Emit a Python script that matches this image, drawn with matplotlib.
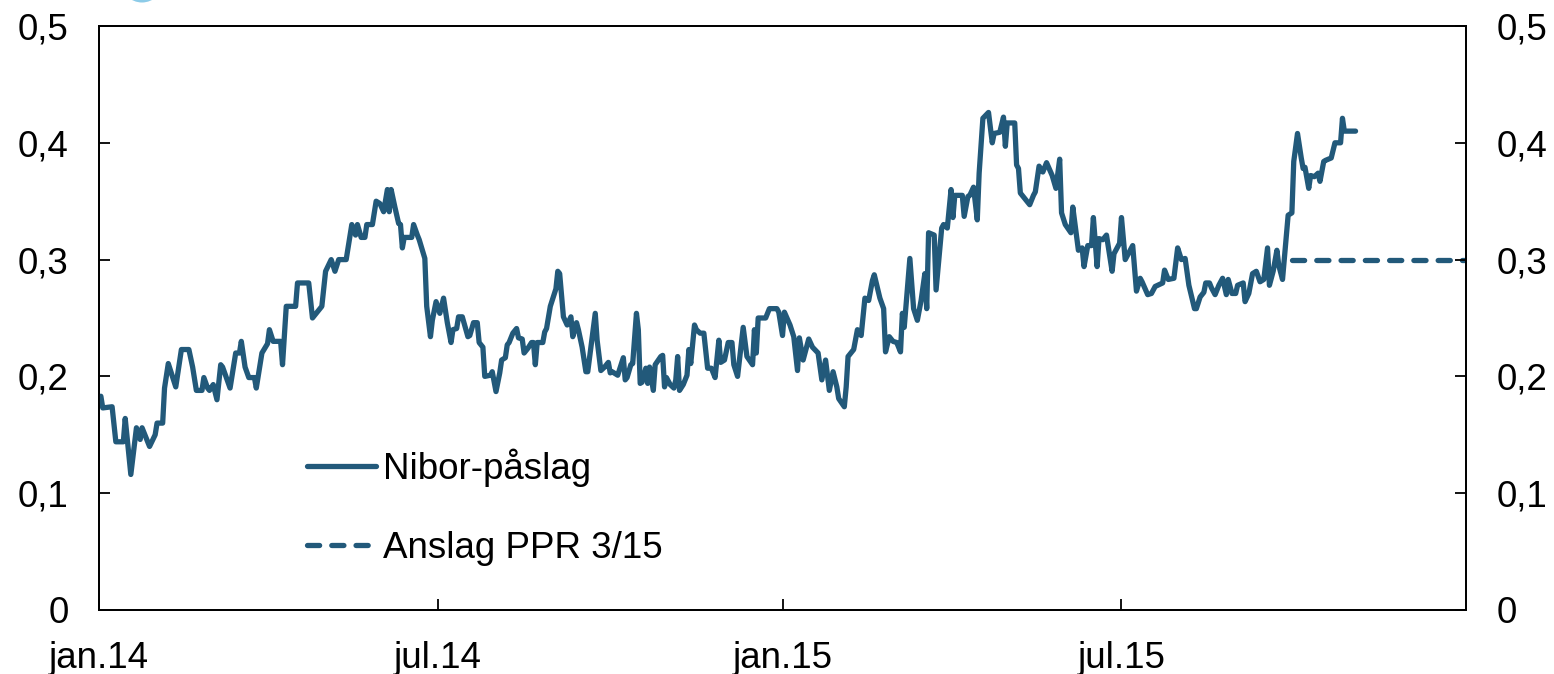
"""Nibor spread (Nibor-påslag) with the PPR 3/15 forecast, written to out.png."""

import matplotlib

matplotlib.use("Agg")
import matplotlib.pyplot as plt
import pandas as pd
from matplotlib.patches import Ellipse
from matplotlib.ticker import FuncFormatter, MultipleLocator

START = "2014-01-01"
X_END = "2016-01-01"

# days after START and the spread in percentage points
nibor_day = [
    1, 2, 7, 9, 13, 14, 17, 20, 22, 23,
    27, 30, 31, 34, 35, 37, 41, 44, 48, 50,
    52, 55, 56, 58, 59, 61, 63, 65, 66, 70,
    73, 75, 76, 78, 80, 83, 84, 87, 90, 91,
    93, 97, 98, 100, 105, 106, 112, 114, 119, 121,
    124, 126, 128, 132, 135, 137, 138, 140, 142, 143,
    146, 147, 148, 150, 152, 154, 155, 156, 158, 160,
    161, 162, 163, 167, 168, 170, 171, 174, 175, 177,
    178, 180, 182, 184, 186, 188, 189, 191, 192, 194,
    197, 198, 200, 202, 203, 205, 206, 209, 210, 212,
    214, 215, 217, 218, 219, 221, 223, 224, 226, 227,
    229, 231, 232, 233, 234, 237, 238, 239, 241, 244,
    245, 246, 248, 250, 252, 253, 255, 256, 258, 260,
    261, 263, 265, 266, 268, 270, 272, 273, 274, 277,
    280, 281, 282, 284, 285, 287, 288, 289, 290, 292,
    293, 294, 296, 297, 300, 301, 302, 303, 305, 307,
    308, 309, 310, 312, 314, 315, 316, 318, 319, 321,
    323, 325, 327, 329, 331, 332, 334, 336, 338, 339,
    341, 344, 346, 349, 350, 351, 352, 356, 358, 362,
    363, 365, 366, 369, 371, 373, 374, 376, 379, 381,
    384, 386, 388, 390, 392, 394, 395, 398, 399, 400,
    403, 405, 407, 409, 411, 413, 414, 417, 419, 420,
    422, 424, 426, 428, 429, 430, 433, 435, 437, 439,
    441, 442, 443, 446, 447, 450, 451, 453, 455, 456,
    457, 461, 462, 464, 465, 467, 469, 470, 472, 475,
    477, 478, 481, 483, 484, 485, 489, 490, 491, 492,
    494, 497, 499, 500, 502, 504, 506, 509, 511, 513,
    514, 516, 519, 520, 523, 525, 526, 528, 530, 531,
    533, 534, 536, 538, 541, 542, 545, 546, 548, 552,
    554, 556, 557, 560, 562, 564, 568, 569, 571, 574,
    576, 578, 580, 582, 585, 586, 588, 590, 591, 593,
    594, 596, 598, 600, 602, 603, 605, 607, 608, 611,
    612, 614, 616, 618, 620, 622, 624, 625, 627, 629,
    630, 632, 633, 635, 637, 638, 640, 642, 643, 644,
    646, 647, 649, 651, 652, 654, 655, 658, 660, 662,
    663, 664, 665, 671,
]
nibor_value = [
    0.183, 0.173, 0.174, 0.144, 0.144, 0.164, 0.116, 0.156, 0.146, 0.156,
    0.140, 0.150, 0.160, 0.160, 0.190, 0.211, 0.191, 0.223, 0.223, 0.208,
    0.188, 0.188, 0.199, 0.190, 0.188, 0.193, 0.180, 0.210, 0.208, 0.190,
    0.220, 0.220, 0.230, 0.208, 0.199, 0.199, 0.190, 0.220, 0.228, 0.240,
    0.230, 0.230, 0.210, 0.260, 0.260, 0.280, 0.280, 0.250, 0.260, 0.290,
    0.300, 0.290, 0.300, 0.300, 0.330, 0.321, 0.330, 0.319, 0.319, 0.330,
    0.330, 0.340, 0.350, 0.348, 0.341, 0.360, 0.341, 0.360, 0.345, 0.331,
    0.330, 0.310, 0.319, 0.319, 0.330, 0.321, 0.317, 0.301, 0.260, 0.234,
    0.248, 0.264, 0.254, 0.267, 0.246, 0.229, 0.240, 0.241, 0.251, 0.251,
    0.234, 0.235, 0.246, 0.246, 0.229, 0.225, 0.200, 0.201, 0.204, 0.187,
    0.203, 0.214, 0.216, 0.227, 0.229, 0.237, 0.241, 0.233, 0.232, 0.220,
    0.224, 0.229, 0.229, 0.210, 0.229, 0.229, 0.238, 0.241, 0.260, 0.275,
    0.290, 0.288, 0.251, 0.244, 0.251, 0.234, 0.246, 0.240, 0.225, 0.204,
    0.204, 0.229, 0.254, 0.231, 0.205, 0.208, 0.212, 0.203, 0.204, 0.201,
    0.216, 0.197, 0.199, 0.210, 0.211, 0.254, 0.240, 0.194, 0.195, 0.207,
    0.194, 0.208, 0.188, 0.210, 0.217, 0.218, 0.191, 0.199, 0.193, 0.190,
    0.197, 0.217, 0.188, 0.193, 0.201, 0.223, 0.211, 0.244, 0.240, 0.237,
    0.237, 0.207, 0.207, 0.199, 0.231, 0.212, 0.214, 0.229, 0.229, 0.210,
    0.200, 0.242, 0.217, 0.210, 0.240, 0.220, 0.250, 0.250, 0.258, 0.258,
    0.255, 0.235, 0.255, 0.244, 0.234, 0.205, 0.233, 0.214, 0.232, 0.225,
    0.220, 0.197, 0.214, 0.188, 0.204, 0.191, 0.181, 0.174, 0.191, 0.217,
    0.223, 0.240, 0.235, 0.267, 0.265, 0.282, 0.287, 0.267, 0.258, 0.221,
    0.234, 0.230, 0.229, 0.221, 0.254, 0.242, 0.301, 0.258, 0.248, 0.265,
    0.288, 0.258, 0.323, 0.321, 0.274, 0.327, 0.330, 0.327, 0.360, 0.336,
    0.355, 0.355, 0.337, 0.354, 0.355, 0.362, 0.334, 0.374, 0.421, 0.426,
    0.400, 0.408, 0.409, 0.422, 0.397, 0.417, 0.417, 0.381, 0.378, 0.357,
    0.353, 0.347, 0.355, 0.358, 0.380, 0.375, 0.383, 0.372, 0.361, 0.386,
    0.340, 0.330, 0.323, 0.345, 0.308, 0.310, 0.294, 0.312, 0.312, 0.336,
    0.294, 0.318, 0.317, 0.321, 0.290, 0.305, 0.314, 0.336, 0.300, 0.312,
    0.273, 0.284, 0.281, 0.270, 0.271, 0.277, 0.280, 0.291, 0.283, 0.284,
    0.310, 0.300, 0.301, 0.278, 0.258, 0.258, 0.268, 0.272, 0.280, 0.280,
    0.276, 0.270, 0.278, 0.284, 0.270, 0.283, 0.271, 0.271, 0.278, 0.280,
    0.264, 0.271, 0.288, 0.290, 0.281, 0.283, 0.310, 0.278, 0.290, 0.308,
    0.295, 0.283, 0.301, 0.338, 0.340, 0.384, 0.408, 0.387, 0.378, 0.379,
    0.361, 0.372, 0.371, 0.374, 0.367, 0.384, 0.385, 0.387, 0.400, 0.400,
    0.400, 0.421, 0.410, 0.410,
]

forecast_dates = ["2015-09-30", "2016-01-01"]
forecast_value = [0.30, 0.30]

tick_dates = ["2014-01-01", "2014-07-01", "2015-01-01", "2015-07-01"]
tick_labels = ["jan.14", "jul.14", "jan.15", "jul.15"]

series_labels = ["Nibor-påslag", "Anslag PPR 3/15"]

LINE = "#22597a"
FONT = "Liberation Sans"
FS = 26.5
LW = 3.8


def comma_fmt(v, _pos):
    if abs(v) < 1e-9:
        return "0"
    return f"{v:.1f}".replace(".", ",")


def main() -> None:
    plt.rcParams["font.family"] = [FONT, "DejaVu Sans"]

    dates = pd.Timestamp(START) + pd.to_timedelta(nibor_day, unit="D")

    fig = plt.figure(figsize=(15.54, 6.74), dpi=100, facecolor="white")
    ax = fig.add_axes([0.0637, 0.0950, 0.8797, 0.8664])

    ax.plot(dates, nibor_value, color=LINE, lw=LW, solid_joinstyle="round",
            solid_capstyle="round", label=series_labels[0], zorder=3)
    ax.plot(pd.to_datetime(forecast_dates), forecast_value, color=LINE, lw=LW,
            linestyle=(0, (2.3, 2.3)), dash_capstyle="round",
            label=series_labels[1], zorder=2)

    ax.set_xlim(pd.Timestamp(START), pd.Timestamp(X_END))
    ax.set_ylim(0, 0.5)
    ax.set_xticks(pd.to_datetime(tick_dates))
    ax.set_xticklabels(tick_labels)
    ax.yaxis.set_major_locator(MultipleLocator(0.1))
    ax.yaxis.set_major_formatter(FuncFormatter(comma_fmt))

    ax2 = ax.twinx()
    ax2.set_ylim(0, 0.5)
    ax2.yaxis.set_major_locator(MultipleLocator(0.1))
    ax2.yaxis.set_major_formatter(FuncFormatter(comma_fmt))

    for a in (ax, ax2):
        for sp in a.spines.values():
            sp.set_linewidth(1.3)
            sp.set_color("black")
    ax.tick_params(axis="both", direction="in", length=8, width=1.3,
                   labelsize=FS, colors="black")
    ax.tick_params(axis="y", pad=22)
    ax.tick_params(axis="x", pad=22.5)
    ax2.tick_params(axis="y", direction="in", length=8, width=1.3,
                    labelsize=FS, pad=22)

    ax.legend(loc="center left", bbox_to_anchor=(0.1525, 0.1755), frameon=False,
              fontsize=FS, handlelength=1.85, handletextpad=0.2,
              labelspacing=1.19, borderpad=0, borderaxespad=0)

    # cut-off fragment of the header mark at the very top
    fig.add_artist(Ellipse((142 / 1554, 1 + 18.5 / 674), 42 / 1554, 42 / 674,
                           transform=fig.transFigure, color="#8ccbe8", lw=0))

    fig.savefig("out.png", dpi=100, facecolor="white")
    plt.close(fig)


if __name__ == "__main__":
    main()
